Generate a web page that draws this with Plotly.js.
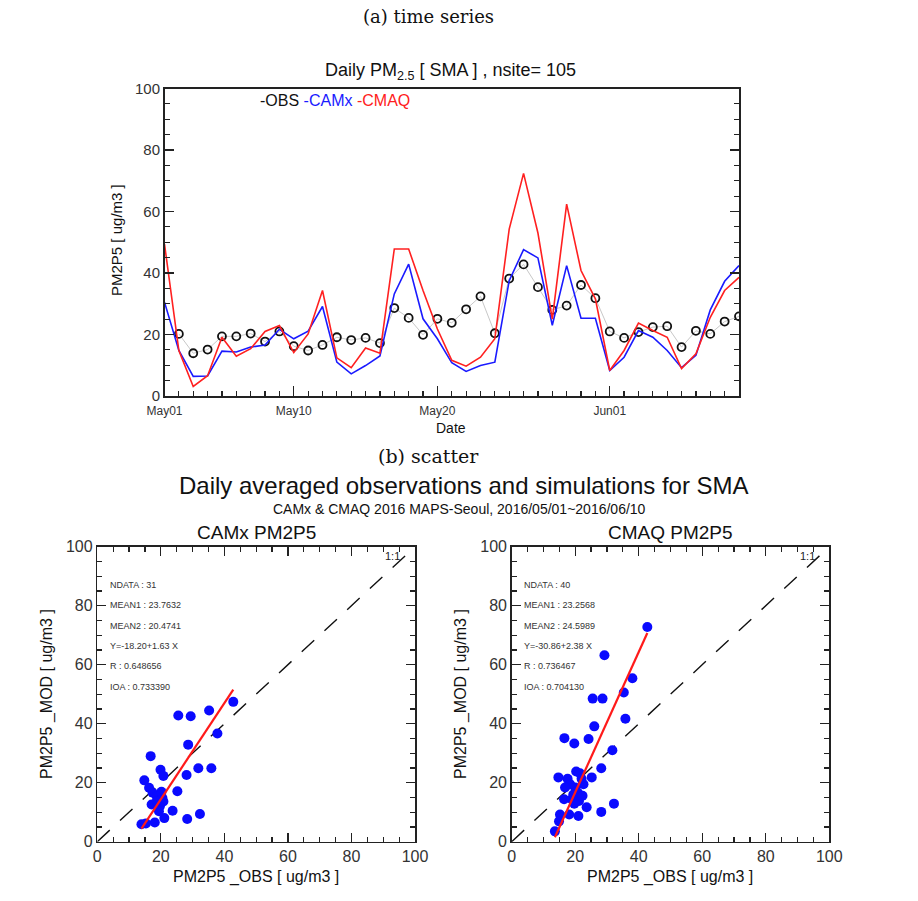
<!DOCTYPE html>
<html>
<head>
<meta charset="utf-8">
<script src="https://cdn.plot.ly/plotly-3.0.1.min.js"></script>
<style>html,body{margin:0;padding:0;background:#fff;}#chart{width:918px;height:901px;}</style>
</head>
<body>
<div id="chart"></div>
<script>
// ---------- Time series data (day index 0 = May01 ... 40 = Jun10) ----------
const tsTickDays = [0, 9, 19, 31];
const tsTickLabels = ['May01', 'May10', 'May20', 'Jun01'];
const modelDays = [0,1,2,3,4,5,6,7,8,9,10,11,12,13,14,15,16,17,18,19,20,21,22,23,24,25,26,27,28,29,30,31,32,33,34,35,36,37,38,39,40];
const obsDays = [1,2,3,4,5,6,7,8,9,10,11,12,13,14,15,16,17,18,19,20,21,22,23,24,25,26,27,28,29,30,31,32,33,34,35,36,37,38,39,40];
const obsTS = [20.2,13.9,15.1,19.4,19.4,20.3,17.7,21.0,16.2,14.8,16.6,19.1,18.2,18.9,17.2,28.6,25.4,19.9,25.1,23.8,28.2,32.4,20.4,38.2,42.8,35.4,28.0,29.4,36.1,31.8,21.0,18.9,20.8,22.4,22.7,15.9,21.2,20.2,24.2,25.9];
const camxTS = [30.5,14.8,6.4,6.5,14.6,14.3,15.9,16.6,21.7,18.6,21.1,29.1,11.0,7.2,9.9,13.0,33.2,42.9,25.1,18.6,10.8,8.0,9.9,11.0,37.5,47.6,44.9,23.0,42.4,25.3,25.3,8.3,12.6,21.3,19.1,14.8,9.2,13.2,28.0,37.3,42.4];
const cmaqTS = [49.4,14.8,3.1,6.6,19.1,12.9,15.4,21.0,22.9,14.1,20.2,34.3,12.4,9.2,15.6,13.9,47.8,47.8,34.3,21.8,11.6,9.7,12.6,18.6,54.3,72.4,53.0,25.0,62.4,40.8,31.6,8.3,14.8,23.7,21.3,19.1,8.9,13.7,25.6,34.3,38.6];

// ---------- Scatter data ----------
const camxObs = [42.8,25.5,29.4,35.2,37.8,28.6,16.8,19.9,20.8,31.8,35.9,28.1,14.8,16.3,25.2,17.4,18.7,20.5,17.1,19.7,20.8,21.1,23.7,19.4,32.3,28.3,18.1,13.9,15.3,18.7,20.2];
const camxMod = [47.4,42.8,42.5,44.5,36.7,32.9,29.0,24.4,22.3,24.9,24.9,22.6,20.8,18.3,17.1,16.6,15.4,14.8,12.6,12.0,13.6,8.0,10.5,10.3,9.4,7.7,6.5,5.9,6.2,13.6,16.9];
const cmaqObs = [42.7,29.2,38.0,35.3,25.5,28.6,35.8,26.0,16.6,19.7,24.2,31.7,28.2,14.7,17.6,20.3,21.5,25.2,16.5,18.9,20.8,22.6,20.0,18.4,21.2,23.6,28.2,32.2,15.2,18.1,21.0,14.9,13.6,19.7,22.0,16.8,19.4,22.3];
const cmaqMod = [72.8,63.2,55.4,50.6,48.5,48.5,41.7,39.1,35.1,33.3,34.8,31.0,24.9,21.8,21.3,23.8,23.2,21.8,14.4,14.4,16.7,19.5,18.4,19.5,13.8,11.7,10.1,12.9,9.2,9.2,8.7,6.9,3.5,12.9,21.3,18.4,16.0,15.6];
const camxFit = [-18.20, 1.63];
const cmaqFit = [-30.86, 2.38];
const camxStats = ['NDATA : 31', 'MEAN1 : 23.7632', 'MEAN2 : 20.4741', 'Y=-18.20+1.63 X', 'R : 0.648656', 'IOA : 0.733390'];
const cmaqStats = ['NDATA : 40', 'MEAN1 : 23.2568', 'MEAN2 : 24.5989', 'Y=-30.86+2.38 X', 'R : 0.736467', 'IOA : 0.704130'];
const oneToOne = [0, 100];

// ---------- Layout helpers ----------
const W = 918, H = 901;
const px = x => x / W;
const py = y => 1 - y / H;
const SANS = 'Liberation Sans, Arial, sans-serif';
const SERIF = 'DejaVu Serif, serif';

function fitLine(obs, fit) {
  const lo = Math.min(...obs), hi = Math.max(...obs);
  return {x: [lo, hi], y: [fit[0] + fit[1] * lo, fit[0] + fit[1] * hi]};
}

const traces = [];
// time series
traces.push({x: obsDays, y: obsTS, type: 'scatter', mode: 'lines+markers', xaxis: 'x', yaxis: 'y',
  line: {color: '#c8c8c8', width: 1}, marker: {symbol: 'circle-open', size: 8, color: '#111', line: {width: 1.8, color: '#111'}}, showlegend: false});
traces.push({x: modelDays, y: camxTS, type: 'scatter', mode: 'lines', xaxis: 'x', yaxis: 'y',
  line: {color: '#1a1aff', width: 1.6}, showlegend: false});
traces.push({x: modelDays, y: cmaqTS, type: 'scatter', mode: 'lines', xaxis: 'x', yaxis: 'y',
  line: {color: '#ff2020', width: 1.6}, showlegend: false});

// scatter panels
[[camxObs, camxMod, camxFit, 'x2', 'y2'], [cmaqObs, cmaqMod, cmaqFit, 'x3', 'y3']].forEach(([o, m, f, xa, ya]) => {
  traces.push({x: oneToOne, y: oneToOne, type: 'scatter', mode: 'lines', xaxis: xa, yaxis: ya,
    line: {color: '#111', width: 1.4, dash: '17px,14px'}, showlegend: false});
  traces.push({x: o, y: m, type: 'scatter', mode: 'markers', xaxis: xa, yaxis: ya,
    marker: {color: '#0a0aff', size: 10, line: {width: 0}}, showlegend: false});
  const fl = fitLine(o, f);
  traces.push({x: fl.x, y: fl.y, type: 'scatter', mode: 'lines', xaxis: xa, yaxis: ya,
    line: {color: '#ff1a1a', width: 2.2}, showlegend: false});
});

const axBase = {showgrid: false, zeroline: false, showline: true, linecolor: '#222', linewidth: 1.5,
  ticks: 'inside', tickcolor: '#222', tickwidth: 1.2, fixedrange: true};

const scatterAx = (dom, anchor) => Object.assign({}, axBase, {
  domain: dom, anchor: anchor, range: [0, 100], dtick: 20, tick0: 0, ticklen: 9, mirror: 'ticks',
  tickfont: {family: SANS, size: 16, color: '#333'},
  minor: {dtick: 5, tick0: 0, ticks: 'inside', ticklen: 5, tickcolor: '#222'}
});

const layout = {
  width: W, height: H, margin: {l: 0, r: 0, t: 0, b: 0}, paper_bgcolor: '#fff', plot_bgcolor: '#fff',
  showlegend: false,
  xaxis: Object.assign({}, axBase, {domain: [px(164.5), px(739)], anchor: 'y', range: [0, 40],
    tickmode: 'array', tickvals: tsTickDays, ticktext: tsTickLabels, ticklen: 10, mirror: true,
    ticklabelstandoff: 3,
    tickfont: {family: SANS, size: 12, color: '#333'},
    minor: {tickmode: 'linear', dtick: 1, tick0: 0, ticks: 'inside', ticklen: 5, tickcolor: '#222'}}),
  yaxis: Object.assign({}, axBase, {domain: [py(396), py(88.5)], anchor: 'x', range: [0, 100],
    dtick: 20, tick0: 0, ticklen: 9, mirror: 'ticks',
    tickfont: {family: SANS, size: 15, color: '#333'},
    minor: {dtick: 5, tick0: 0, ticks: 'inside', ticklen: 5, tickcolor: '#222'}}),
  xaxis2: scatterAx([px(97.3), px(415)], 'y2'),
  yaxis2: scatterAx([py(841.7), py(546.7)], 'x2'),
  xaxis3: scatterAx([px(511.7), px(829.3)], 'y3'),
  yaxis3: scatterAx([py(841.7), py(546.7)], 'x3'),
  annotations: []
};

const A = layout.annotations;
function txt(text, x, y, size, opts) {
  A.push(Object.assign({text: text, xref: 'paper', yref: 'paper', x: px(x), y: py(y), showarrow: false,
    xanchor: 'center', yanchor: 'middle', font: {family: SANS, size: size, color: '#111'}}, opts || {}));
}
txt('(a) time series', 428, 17, 18, {font: {family: SERIF, size: 18, color: '#111'}});
txt('Daily PM<sub>2.5</sub> [ SMA ] , nsite= 105', 450, 71, 18);
txt('<span style="color:#111">-OBS</span> <span style="color:#1a1aff">-CAMx</span> <span style="color:#ff2020">-CMAQ</span>', 335, 101, 16);
txt('PM2P5 [ ug/m3 ]', 117, 240, 15, {textangle: -90});
txt('Date', 451, 428, 14);
txt('(b) scatter', 428, 456, 19, {font: {family: SERIF, size: 19, color: '#111'}});
txt('Daily averaged observations and simulations for SMA', 464, 485, 24);
txt('CAMx &amp; CMAQ 2016 MAPS-Seoul, 2016/05/01~2016/06/10', 460, 509, 14);
txt('CAMx PM2P5', 256, 532, 19);
txt('CMAQ PM2P5', 670, 532, 19);
txt('PM2P5 _OBS [ ug/m3 ]', 256, 877, 16);
txt('PM2P5 _OBS [ ug/m3 ]', 670, 877, 16);
txt('PM2P5 _MOD [ ug/m3 ]', 47, 694, 16, {textangle: -90});
txt('PM2P5 _MOD [ ug/m3 ]', 461, 694, 16, {textangle: -90});

[[camxStats, 'x2', 'y2'], [cmaqStats, 'x3', 'y3']].forEach(([st, xa, ya]) => {
  st.forEach((s, i) => {
    A.push({text: s, xref: xa, yref: ya, x: 3.3, y: 87 - i * 6.9, showarrow: false, xanchor: 'left', yanchor: 'middle',
      font: {family: SANS, size: 9, color: '#333'}});
  });
  A.push({text: '1:1', xref: xa, yref: ya, x: 93, y: 97, showarrow: false, xanchor: 'center', yanchor: 'middle',
    font: {family: SANS, size: 11, color: '#222'}});
});

Plotly.newPlot('chart', traces, layout, {staticPlot: true, displayModeBar: false});
</script>
</body>
</html>
